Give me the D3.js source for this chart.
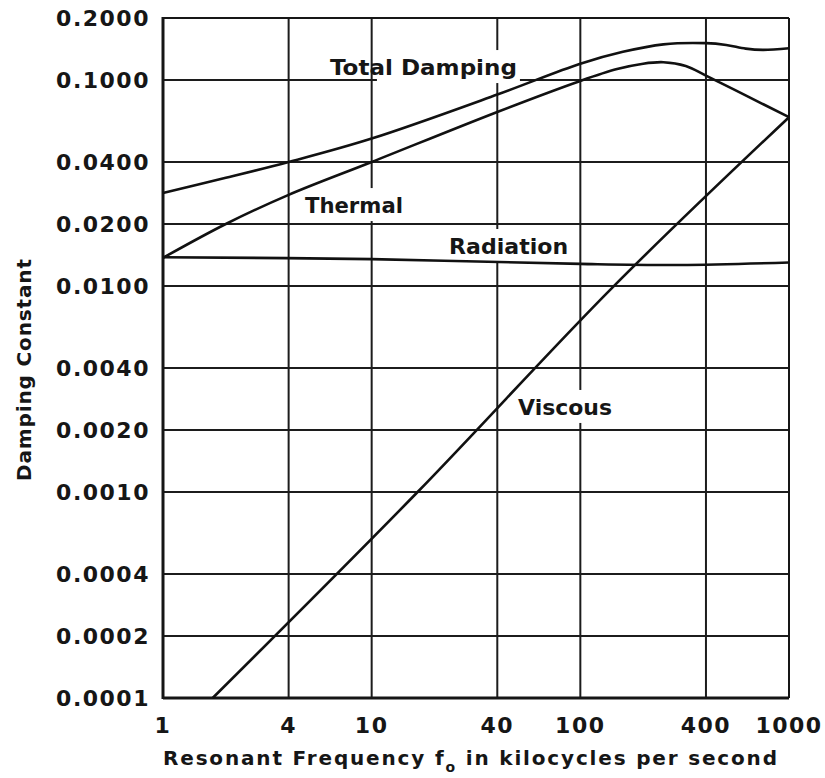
<!DOCTYPE html>
<html>
<head>
<meta charset="utf-8">
<script src="https://cdn.jsdelivr.net/npm/d3@7/dist/d3.min.js"></script>
<style>
  html, body { margin: 0; padding: 0; background: #fff; }
  svg text { font-family: "DejaVu Sans", sans-serif; font-weight: bold; fill: #161616; }
</style>
</head>
<body>
<svg id="chart" width="825" height="778"></svg>
<script>
// ticks on both log axes
const freqTicks = [1, 4, 10, 40, 100, 400, 1000];
const freqTickLabels = ['1', '4', '10', '40', '100', '400', '1000'];
const dampTicks = [0.2, 0.1, 0.04, 0.02, 0.01, 0.004, 0.002, 0.001, 0.0004, 0.0002, 0.0001];
const dampTickLabels = ['0.2000', '0.1000', '0.0400', '0.0200', '0.0100', '0.0040',
                        '0.0020', '0.0010', '0.0004', '0.0002', '0.0001'];

// curves (frequency in kc/s, damping constant)
const totalFreq = [1, 2, 4, 10, 40, 100, 160, 250, 400, 500, 620, 750, 1000];
const totalDamp = [0.0283, 0.0335, 0.040, 0.052, 0.085, 0.12, 0.137, 0.149, 0.151, 0.148, 0.142, 0.140, 0.1425];

const thermalFreq = [1, 2, 4, 10, 40, 100, 150, 200, 250, 320, 400, 623, 1000];
const thermalDamp = [0.0137, 0.020, 0.0277, 0.040, 0.070, 0.099, 0.113, 0.120, 0.122, 0.117, 0.105, 0.0840, 0.066];

const radiationFreq = [1, 10, 100, 300, 1000];
const radiationDamp = [0.0138, 0.0135, 0.0128, 0.01265, 0.0130];

const viscousFreq = [1.73, 16.6, 142, 1000];
const viscousDamp = [0.0001, 0.001, 0.0098, 0.066];

// curve names placed in data units (left edge, baseline)
const labelText = ['Total Damping', 'Thermal', 'Radiation', 'Viscous'];
const labelFreq = [6.31, 4.79, 23.5, 50.3];
const labelDamp = [0.1057, 0.0226, 0.0143, 0.002366];
const labelWidth = [187, 98, 119, 94];
const labelMaskInset = [50, 0, 0, 0];

const width = 825, height = 778;
const margin = { top: 18, right: 36, bottom: 80, left: 163 };

const svg = d3.select('#chart');

const x = d3.scaleLog().domain([1, 1000]).range([margin.left, width - margin.right]);
const y = d3.scaleLog().domain([0.0001, 0.2]).range([height - margin.bottom, margin.top]);

const zip = (xs, ys) => xs.map((v, i) => [v, ys[i]]);

/* ------------ grid ------------ */
const grid = svg.append('g').attr('class', 'grid').attr('stroke', '#1c1c1c').attr('stroke-width', 2);

grid.selectAll('line.h').data(dampTicks).enter().append('line')
    .attr('class', 'h')
    .attr('x1', x(1)).attr('x2', x(1000))
    .attr('y1', d => y(d)).attr('y2', d => y(d));

grid.selectAll('line.v').data(freqTicks.slice(1, -1)).enter().append('line')
    .attr('class', 'v')
    .attr('y1', y(0.2)).attr('y2', y(0.0001))
    .attr('x1', d => x(d)).attr('x2', d => x(d));

/* ------------ curve labels with white knock-outs ------------ */
const masks = svg.append('g').attr('class', 'masks');
const labels = svg.append('g').attr('class', 'labels');

labelText.forEach((t, i) => {
    const txt = labels.append('text')
        .attr('x', x(labelFreq[i]))
        .attr('y', y(labelDamp[i]))
        .attr('font-size', 22)
        .attr('textLength', labelWidth[i])
        .attr('lengthAdjust', 'spacingAndGlyphs')
        .text(t);
    const bb = txt.node().getBBox();
    masks.append('rect')
        .attr('x', bb.x + labelMaskInset[i] - 3)
        .attr('y', bb.y - 5)
        .attr('width', bb.width - labelMaskInset[i] + 6)
        .attr('height', bb.height + 8)
        .attr('fill', '#fff');
});

/* ------------ frame ------------ */
const frame = svg.append('g').attr('class', 'frame').attr('stroke', '#161616');
frame.append('line').attr('x1', x(1)).attr('x2', x(1))
    .attr('y1', y(0.2) - 1).attr('y2', y(0.0001) + 1).attr('stroke-width', 3);
frame.append('line').attr('x1', x(1)).attr('x2', x(1000))
    .attr('y1', y(0.0001)).attr('y2', y(0.0001)).attr('stroke-width', 3);
frame.append('line').attr('x1', x(1)).attr('x2', x(1000))
    .attr('y1', y(0.2)).attr('y2', y(0.2)).attr('stroke-width', 2);
frame.append('line').attr('x1', x(1000)).attr('x2', x(1000))
    .attr('y1', y(0.2)).attr('y2', y(0.0001)).attr('stroke-width', 2);

/* ------------ curves ------------ */
const line = d3.line()
    .x(d => x(d[0]))
    .y(d => y(d[1]))
    .curve(d3.curveCatmullRom.alpha(0.5));

const series = [
    zip(totalFreq, totalDamp),
    zip(thermalFreq, thermalDamp),
    zip(radiationFreq, radiationDamp),
    zip(viscousFreq, viscousDamp)
];

svg.append('g').attr('class', 'curves')
    .selectAll('path').data(series).enter().append('path')
    .attr('d', line)
    .attr('fill', 'none')
    .attr('stroke', '#111')
    .attr('stroke-width', 2.6)
    .attr('stroke-linejoin', 'round');

// labels go on top of masks
labels.raise();

/* ------------ tick labels ------------ */
svg.append('g').selectAll('text').data(dampTicks).enter().append('text')
    .attr('x', margin.left - 13)
    .attr('y', d => y(d) + 8)
    .attr('text-anchor', 'end')
    .attr('font-size', 22)
    .attr('letter-spacing', 1.5)
    .text((d, i) => dampTickLabels[i]);

svg.append('g').selectAll('text').data(freqTicks).enter().append('text')
    .attr('x', d => x(d))
    .attr('y', height - 45)
    .attr('text-anchor', 'middle')
    .attr('font-size', 22)
    .attr('letter-spacing', 1.5)
    .text((d, i) => freqTickLabels[i]);

/* ------------ axis titles ------------ */
const xTitle = svg.append('text')
    .attr('x', margin.left)
    .attr('y', height - 13)
    .attr('font-size', 20)
    .attr('textLength', 614)
    .attr('lengthAdjust', 'spacing');
xTitle.append('tspan').text('Resonant Frequency f');
xTitle.append('tspan').attr('dy', 7).attr('font-size', 14).text('o');
xTitle.append('tspan').attr('dy', -7).text(' in kilocycles per second');

svg.append('text')
    .attr('transform', `translate(31, ${(y(0.2) + y(0.0001)) / 2 + 12}) rotate(-90)`)
    .attr('text-anchor', 'middle')
    .attr('font-size', 20)
    .attr('textLength', 222)
    .attr('lengthAdjust', 'spacing')
    .text('Damping Constant');
</script>
</body>
</html>
